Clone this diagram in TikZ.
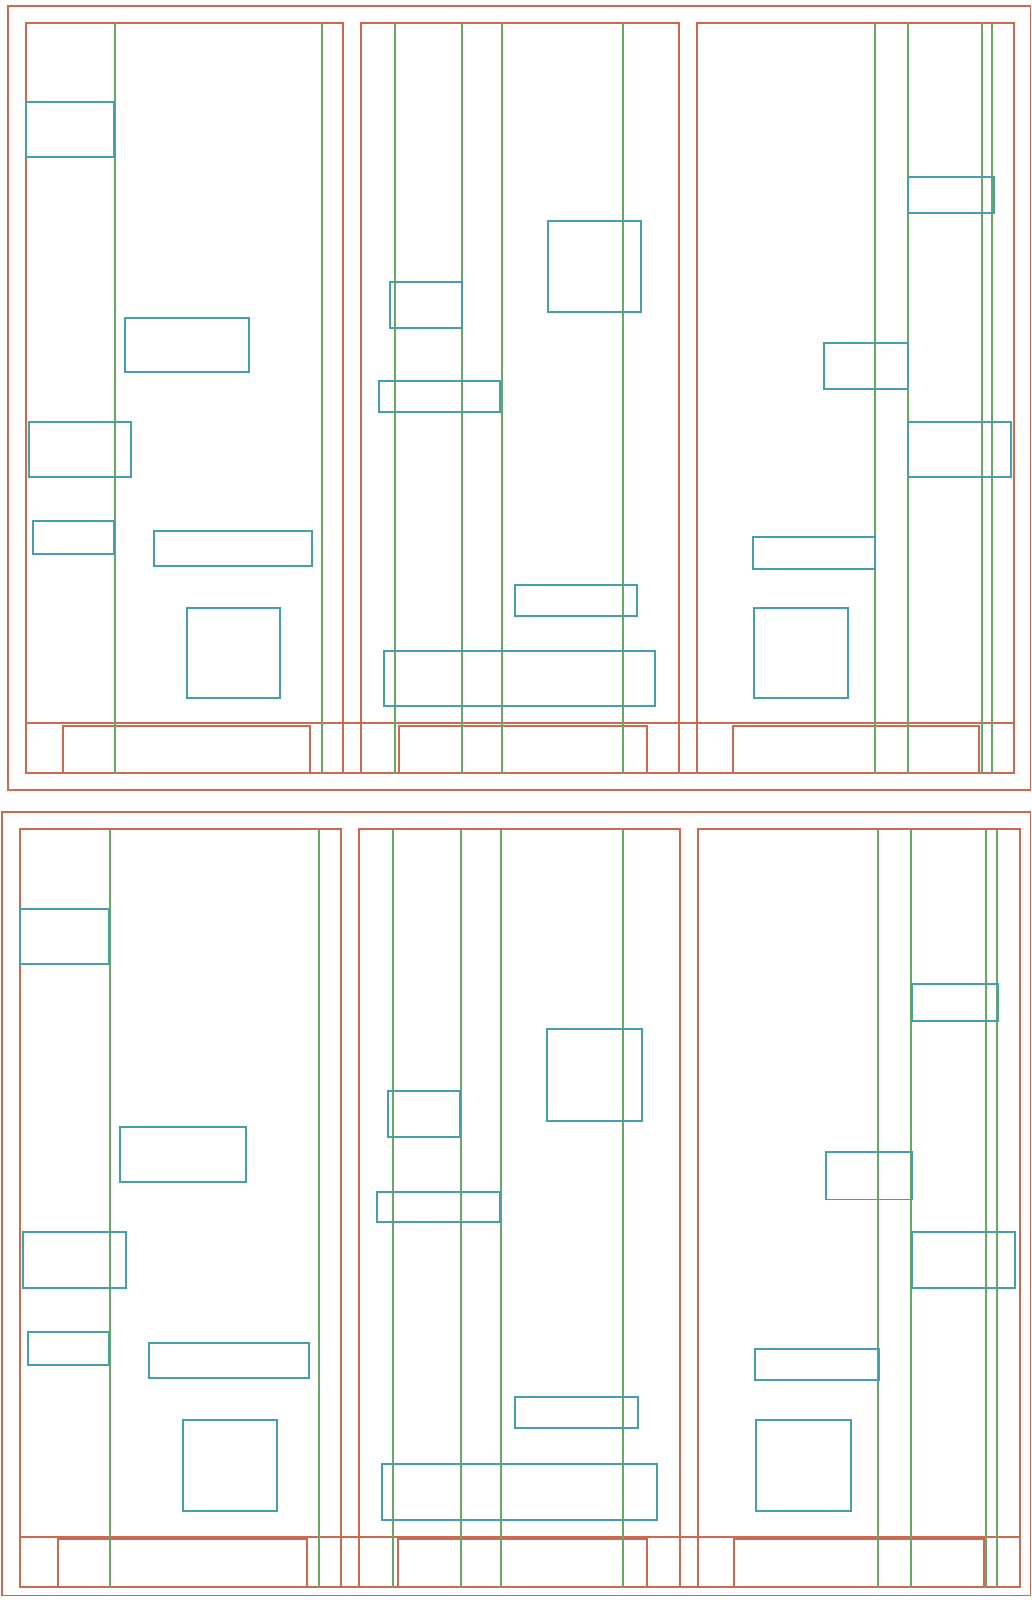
\documentclass[tikz,border=0pt]{standalone}
\begin{document}
\begin{tikzpicture}[x=0.5pt,y=-0.5pt,
  frame/.style={draw=red!45!orange!80!black!85, line width=0.9pt},
  guide/.style={draw=green!45!black!60!white, line width=0.9pt},
  box/.style={draw=cyan!60!black!80, line width=0.9pt}]
\definecolor{fr}{RGB}{205,105,80}
\definecolor{gr}{RGB}{105,168,100}
\definecolor{bx}{RGB}{70,160,170}
\tikzset{frame/.style={draw=fr, line width=0.9pt},
  guide/.style={draw=gr, line width=0.9pt},
  box/.style={draw=bx, line width=0.9pt}}
\useasboundingbox (0,0) rectangle (1032,1600);
% ================= TOP HALF =================
\draw[frame] (8,6) rectangle (1030.5,790);
% panels
\draw[frame] (25.7,23.3) rectangle (343.3,773.3);
\draw[frame] (361,23.3) rectangle (679,773.3);
\draw[frame] (697,23.3) rectangle (1014.3,773.3);
% bottom strip
\draw[frame] (25.7,723.3) rectangle (1014.3,773.3);
\draw[frame] (63.3,725.7) rectangle (310,773.3);
\draw[frame] (399.3,725.7) rectangle (646.7,773.3);
\draw[frame] (732.7,725.7) rectangle (979.3,773.3);
% guides
\foreach \gx in {115,321.7,394.7,462,501.7,622.7,874.7,907.7,982,992}
  \draw[guide] (\gx,23.3) -- (\gx,774);
% boxes panel 1
\draw[box] (25.7,102) rectangle (114.3,156.7);
\draw[box] (125,317.7) rectangle (249.3,372.3);
\draw[box] (29.3,421.7) rectangle (131,477);
\draw[box] (33,520.7) rectangle (113.7,553.7);
\draw[box] (153.7,531.3) rectangle (312,566);
\draw[box] (187.3,607.7) rectangle (280.3,698.3);
% boxes panel 2
\draw[box] (390,281.7) rectangle (462,328);
\draw[box] (547.7,221) rectangle (641,312.3);
\draw[box] (379,381) rectangle (500.3,412);
\draw[box] (515.3,585) rectangle (637.3,616.3);
\draw[box] (383.7,651) rectangle (655.3,706);
% boxes panel 3
\draw[box] (908,176.7) rectangle (993.7,212.7);
\draw[box] (823.7,342.7) rectangle (908,389);
\draw[box] (908,422) rectangle (1010.7,477.3);
\draw[box] (753,537.3) rectangle (875.3,569);
\draw[box] (754.3,607.7) rectangle (847.7,698.3);
% ================= BOTTOM HALF =================
\draw[frame] (2,812.3) rectangle (1030.5,1595.5);
% panels
\draw[frame] (20.3,829.3) rectangle (341,1586.7);
\draw[frame] (359,829.3) rectangle (679.7,1586.7);
\draw[frame] (698,829.3) rectangle (1019.7,1586.7);
% bottom strip
\draw[frame] (20.3,1537.3) rectangle (1019.7,1586.7);
\draw[frame] (58,1539) rectangle (307.3,1586.7);
\draw[frame] (398,1539) rectangle (647.3,1586.7);
\draw[frame] (734.3,1539) rectangle (983.7,1586.7);
% guides
\foreach \gx in {110.3,318.7,393,460.7,500.7,623.3,878,911,986,996.7}
  \draw[guide] (\gx,829.3) -- (\gx,1587.5);
% boxes panel 1
\draw[box] (20.3,908.7) rectangle (109.3,964);
\draw[box] (120.3,1126.7) rectangle (246.3,1182);
\draw[box] (23.3,1232) rectangle (126.3,1287.7);
\draw[box] (27.7,1332) rectangle (109,1365);
\draw[box] (149.3,1342.7) rectangle (309.3,1378);
\draw[box] (183,1419.7) rectangle (277.3,1511.3);
% boxes panel 2
\draw[box] (388.3,1090.7) rectangle (460.3,1137.3);
\draw[box] (547.3,1029.3) rectangle (641.7,1121.3);
\draw[box] (376.7,1191.7) rectangle (500,1222.3);
\draw[box] (514.7,1397) rectangle (638.3,1428.3);
\draw[box] (381.7,1464) rectangle (656.7,1519.7);
% boxes panel 3
\draw[box] (911.7,984.3) rectangle (998,1020.7);
\draw[box] (826.3,1152.3) rectangle (911.7,1199.5);
\draw[box] (911.7,1232.3) rectangle (1015.3,1288);
\draw[box] (755,1349) rectangle (878.7,1380.3);
\draw[box] (756,1419.7) rectangle (850.7,1511.3);
\end{tikzpicture}
\end{document}
